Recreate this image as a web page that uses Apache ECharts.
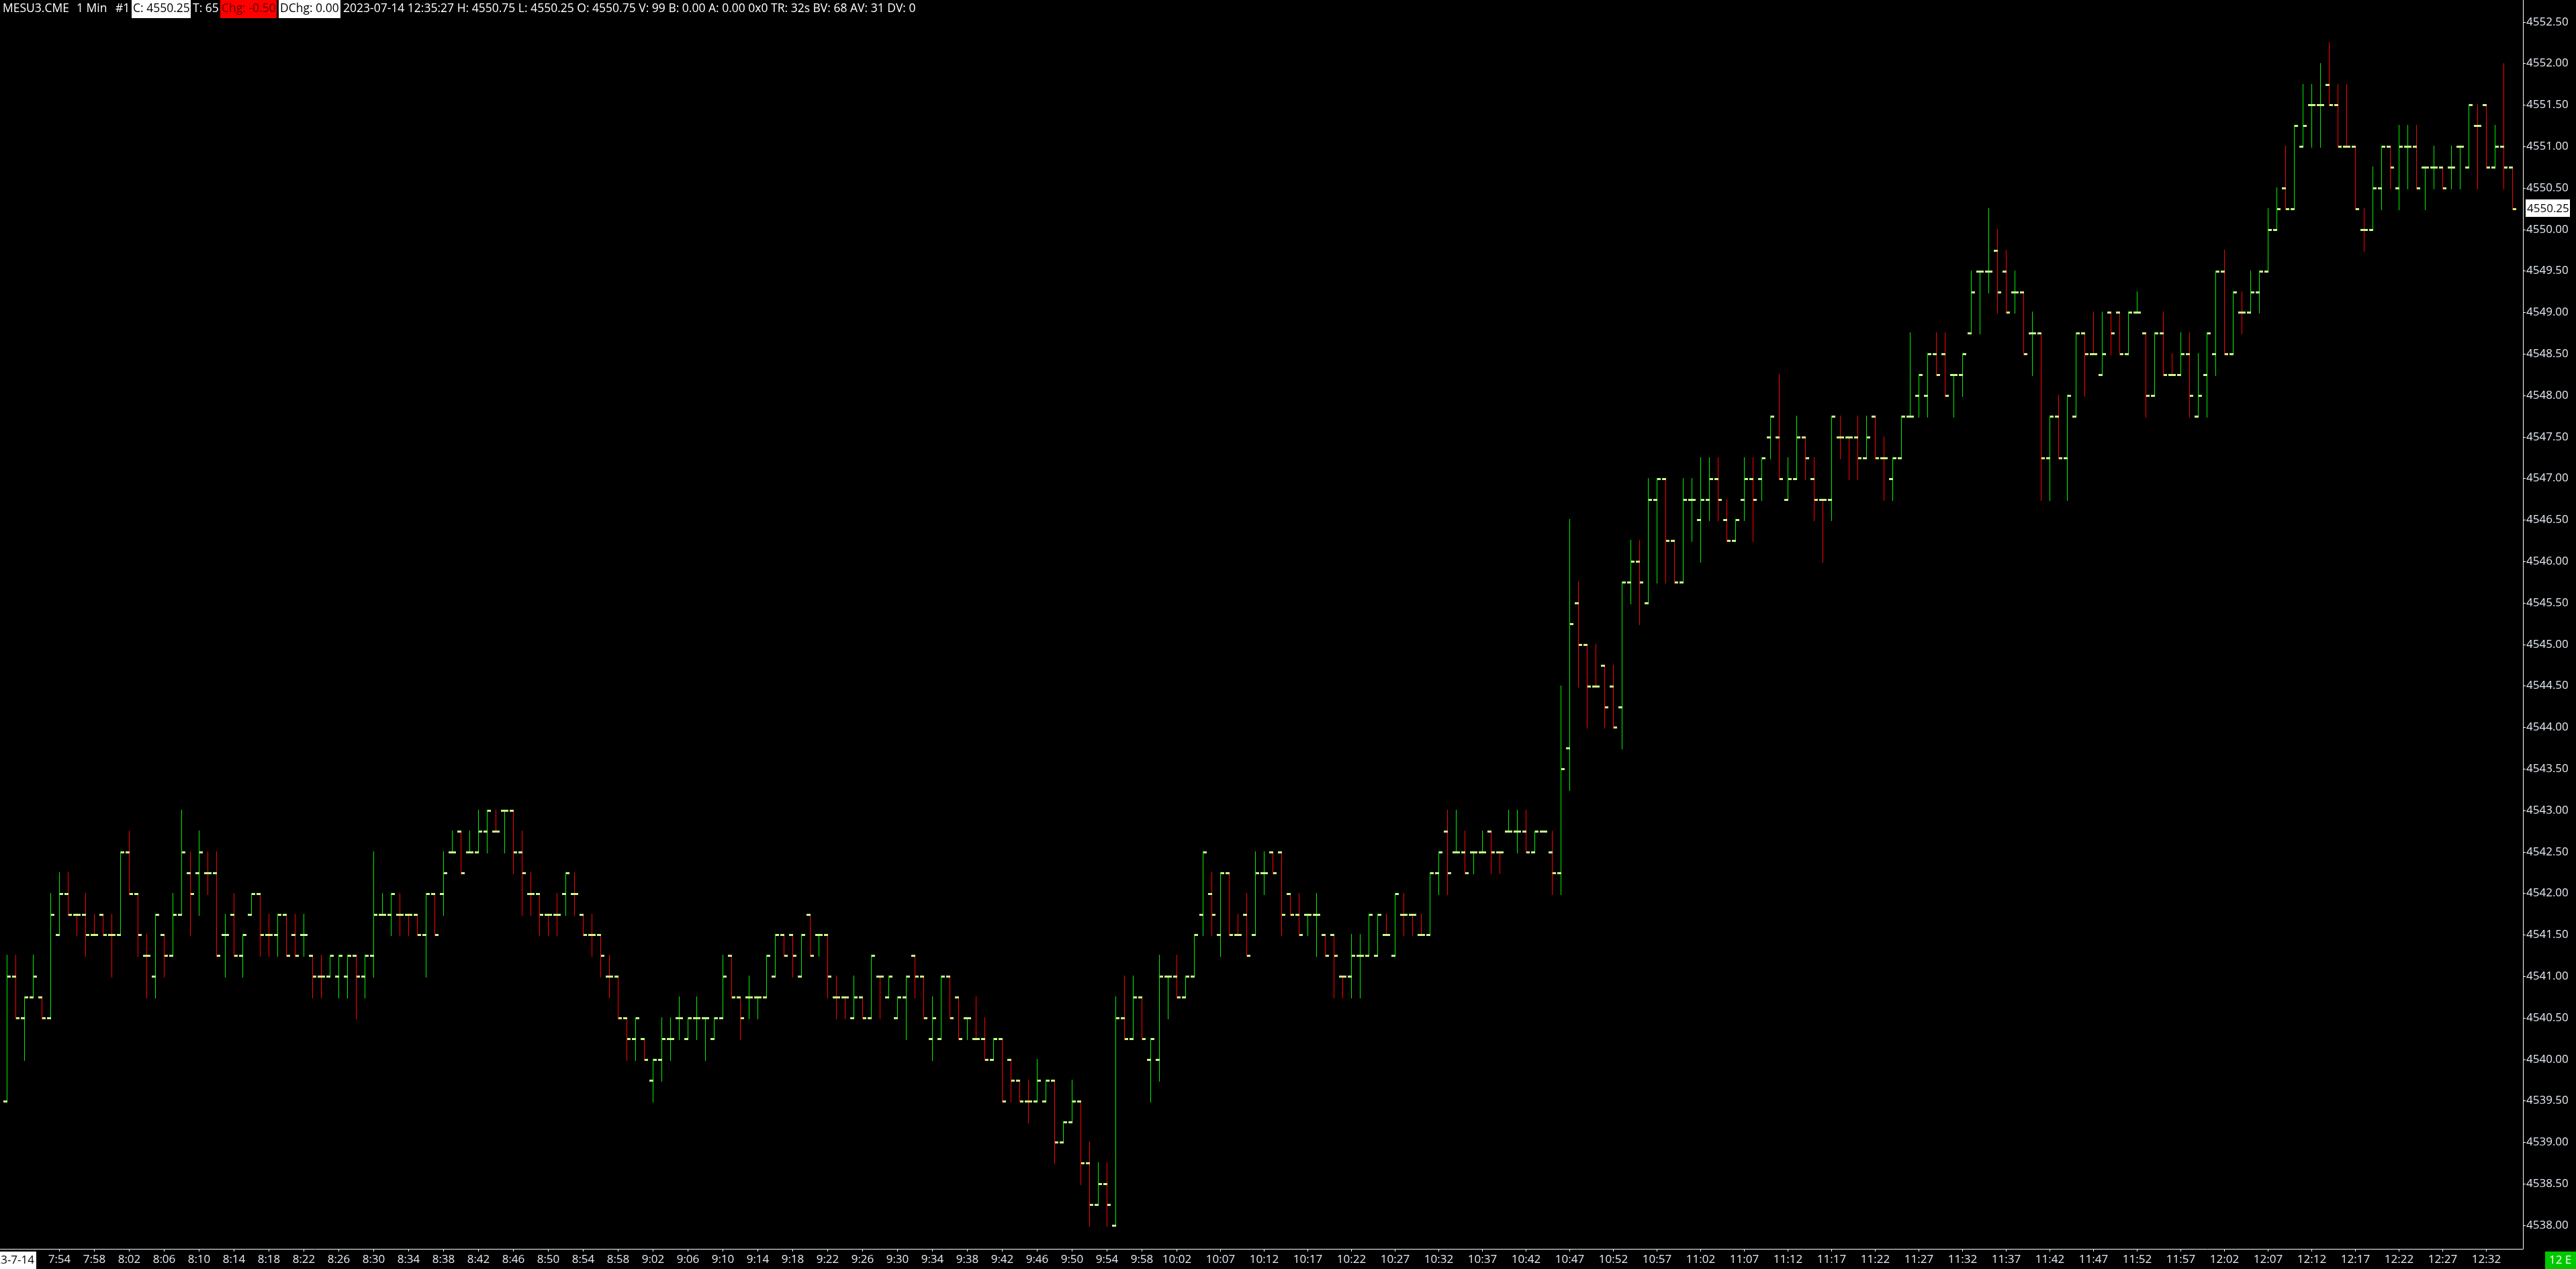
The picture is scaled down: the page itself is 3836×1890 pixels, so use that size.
<!DOCTYPE html>
<html><head><meta charset="utf-8">
<style>html,body{margin:0;padding:0;background:#000;overflow:hidden}#c{width:3836px;height:1890px}</style>
<script src="https://cdn.jsdelivr.net/npm/echarts@6/dist/echarts.min.js"></script>
</head><body><div id="c"></div>
<script>
// ---- data ----
const startMinute = 7 * 60 + 48; // first bar 7:48
const open = [
4539.5,4541,4540.5,4540.75,4540.75,4540.5,4541.5,4542,4541.75,4541.75,
4541.5,4541.75,4541.5,4541.5,4542.5,4542,4541.25,4541,4541.5,4541.25,
4541.75,4542.25,4542.25,4542.25,4542.25,4541.5,4541.75,4541.25,4541.75,4542,
4541.5,4541.5,4541.75,4541.5,4541.5,4541.25,4541,4541,4541,4541,
4541.25,4541,4541.25,4541.75,4541.75,4541.75,4541.75,4541.75,4541.5,4542,
4542,4542.5,4542.75,4542.5,4542.5,4542.75,4542.75,4543,4543,4542.5,
4542,4542,4541.75,4541.75,4542,4542,4541.75,4541.5,4541.5,4541,
4541,4540.5,4540.25,4540.25,4539.75,4540,4540.25,4540.5,4540.25,4540.5,
4540.5,4540.25,4540.5,4541.25,4540.75,4540.75,4540.75,4540.75,4541,4541.5,
4541.5,4541,4541.75,4541.5,4541.5,4540.75,4540.75,4540.5,4540.75,4540.5,
4541,4540.75,4540.5,4540.75,4541.25,4541,4540.25,4540.25,4541,4540.75,
4540.5,4540.25,4540.25,4540,4540.25,4540,4539.75,4539.5,4539.5,4539.5,
4539.75,4539,4539.25,4539.5,4538.75,4538.25,4538.5,4538,4540.5,4540.25,
4540.75,4540,4540,4541,4541,4540.75,4541,4541.75,4542,4541.5,
4542.25,4541.5,4541.75,4541.5,4542.25,4542.5,4542.5,4542,4541.75,4541.75,
4541.75,4541.5,4541.5,4541,4541,4541.25,4541.25,4541.25,4541.5,4541.25,
4541.75,4541.75,4541.5,4541.5,4542.25,4542.75,4542.5,4542.5,4542.5,4542.5,
4542.75,4542.5,4542.75,4542.75,4542.75,4542.5,4542.75,4542.5,4542.25,4543.75,
4545.5,4545,4544.5,4544.75,4544.5,4544.25,4545.75,4546,4545.5,4546.75,
4547,4546.25,4545.75,4546.75,4546.5,4546.75,4547,4546.5,4546.25,4546.75,
4547,4547,4547.5,4547.5,4546.75,4547,4547.5,4547,4546.75,4546.75,
4547.5,4547.5,4547.5,4547.25,4547.75,4547.25,4547,4547.25,4547.75,4548,
4548,4548.5,4548.5,4548.25,4548.25,4548.75,4549.5,4549.5,4549.75,4549.5,
4549.25,4549.25,4548.75,4548.75,4547.25,4547.75,4547.25,4547.75,4548.75,4548.5,
4548.25,4549,4549,4548.5,4549,4548.75,4548,4548.75,4548.25,4548.25,
4548.5,4547.75,4548.25,4548.5,4549.5,4548.5,4549,4549,4549.25,4549.5,
4550,4550.5,4550.25,4551,4551.5,4551.5,4551.75,4551.5,4551,4551,
4550,4550,4550.5,4551,4550.5,4551,4551,4550.75,4550.75,4550.75,
4550.75,4551,4550.75,4551.25,4551.5,4550.75,4551,4550.75];
const high = [
4541.25,4541.25,4540.75,4541.25,4540.75,4542,4542.25,4542.25,4541.75,4542,
4541.75,4541.75,4541.75,4542.5,4542.75,4542,4541.5,4541.75,4541.5,4542,
4543,4542.5,4542.75,4542.5,4542.5,4541.75,4542,4541.5,4542,4542,
4541.75,4541.75,4541.75,4541.75,4541.75,4541.25,4541.25,4541.25,4541.25,4541.25,
4541.25,4541.25,4542.5,4542,4542,4542,4541.75,4541.75,4542,4542,
4542.5,4542.75,4542.75,4542.75,4543,4543,4543,4543,4543,4542.75,
4542.25,4542,4541.75,4542,4542.25,4542.25,4541.75,4541.75,4541.5,4541.25,
4541,4540.5,4540.5,4540.25,4540,4540.5,4540.5,4540.75,4540.5,4540.75,
4540.5,4540.5,4541.25,4541.25,4540.75,4541,4540.75,4541.25,4541.5,4541.5,
4541.5,4541.5,4541.75,4541.5,4541.5,4541,4540.75,4541,4540.75,4541.25,
4541,4541,4540.75,4541,4541.25,4541,4540.75,4541,4541,4540.75,
4540.5,4540.75,4540.5,4540.25,4540.25,4540,4539.75,4539.75,4540,4539.75,
4539.75,4539.25,4539.75,4539.5,4539,4538.75,4538.75,4540.75,4541,4541,
4540.75,4540.25,4541.25,4541,4541.25,4541,4541.5,4542.5,4542.25,4542.25,
4542.25,4541.75,4542,4542.5,4542.5,4542.5,4542.5,4542,4542,4541.75,
4542,4541.5,4541.5,4541,4541.5,4541.5,4541.75,4541.75,4541.75,4542,
4542,4541.75,4541.75,4542.25,4542.5,4543,4543,4542.75,4542.5,4542.75,
4542.75,4542.5,4543,4543,4543,4542.75,4542.75,4542.75,4544.5,4546.5,
4545.75,4545,4545,4544.75,4544.75,4545.75,4546.25,4546.25,4547,4547,
4547,4546.25,4547,4547,4547.25,4547.25,4547.25,4546.75,4546.5,4547.25,
4547.25,4547.25,4547.75,4548.25,4547.25,4547.75,4547.5,4547.25,4546.75,4547.75,
4547.75,4547.5,4547.75,4547.75,4547.75,4547.5,4547.25,4547.75,4548.75,4548.25,
4548.5,4548.75,4548.75,4548.25,4548.5,4549.5,4549.5,4550.25,4550,4549.75,
4549.5,4549.25,4549,4548.75,4547.75,4548,4548,4548.75,4548.75,4549,
4549,4549,4549,4549,4549.25,4548.75,4548.75,4549,4548.5,4548.75,
4548.75,4548.5,4548.75,4549.5,4549.75,4549.25,4549.25,4549.5,4549.5,4550.25,
4550.5,4551,4551.25,4551.75,4551.75,4552,4552.25,4551.75,4551.75,4551,
4550.25,4550.75,4551,4551,4551.25,4551.25,4551.25,4550.75,4551,4550.75,
4551,4551,4551.5,4551.5,4551.5,4551.25,4552,4550.75];
const low = [
4539.5,4540.5,4540,4540.75,4540.5,4540.5,4541.5,4541.75,4541.5,4541.25,
4541.5,4541.5,4541,4541.5,4542,4541.25,4540.75,4540.75,4541,4541.25,
4541.75,4541.5,4541.75,4542,4541.25,4541,4541.25,4541,4541.75,4541.25,
4541.25,4541.25,4541.25,4541.25,4541.25,4540.75,4540.75,4541,4540.75,4540.75,
4540.5,4540.75,4541,4541.75,4541.5,4541.5,4541.5,4541.5,4541,4541.5,
4541.75,4542.5,4542.25,4542.5,4542.5,4542.5,4542.75,4542.5,4542.25,4541.75,
4541.75,4541.5,4541.5,4541.5,4541.75,4541.75,4541.5,4541.25,4541,4540.75,
4540.5,4540,4540,4540,4539.5,4539.75,4540,4540.25,4540.25,4540.25,
4540,4540.25,4540.5,4540.75,4540.25,4540.5,4540.5,4540.75,4541,4541.25,
4541,4541,4541.25,4541.25,4540.75,4540.5,4540.5,4540.5,4540.5,4540.5,
4540.5,4540.75,4540.5,4540.25,4540.75,4540.5,4540,4540.25,4540.5,4540.25,
4540.25,4540.25,4540,4540,4539.5,4539.5,4539.5,4539.25,4539.5,4539.5,
4538.75,4539,4539.25,4538.5,4538,4538.25,4538,4538,4540.25,4540.25,
4540.25,4539.5,4539.75,4540.5,4540.75,4540.75,4541,4541.5,4541.5,4541.25,
4541.5,4541.5,4541.25,4541.5,4542,4542.25,4541.5,4541.75,4541.5,4541.5,
4541.25,4541.25,4540.75,4540.75,4540.75,4540.75,4541.25,4541.25,4541.5,4541.25,
4541.5,4541.5,4541.5,4541.5,4542,4542,4542.5,4542.25,4542.25,4542.5,
4542.25,4542.25,4542.75,4542.5,4542.5,4542.5,4542.75,4542,4542,4543.25,
4544.5,4544,4544.5,4544,4544,4543.75,4545.5,4545.25,4545.5,4545.75,
4545.75,4545.75,4545.75,4546.25,4546,4546.5,4546.5,4546.25,4546.25,4546.5,
4546.25,4546.75,4547.25,4547,4546.75,4547,4547,4546.5,4546,4546.5,
4547.25,4547,4547,4547.25,4547.25,4546.75,4546.75,4547.25,4547.75,4547.75,
4547.75,4548.25,4548,4547.75,4548,4548.75,4548.75,4549.25,4549,4549,
4549,4548.5,4548.25,4546.75,4546.75,4547.25,4546.75,4547.75,4548,4548.5,
4548.25,4548.5,4548.5,4548.5,4549,4547.75,4548,4548.25,4548.25,4548.25,
4547.75,4547.75,4547.75,4548.25,4548.5,4548.5,4548.75,4549,4549,4549.5,
4550,4550.25,4550.25,4551,4551,4551,4551.5,4551,4551,4550.25,
4549.75,4550,4550.25,4550.5,4550.25,4550.5,4550.5,4550.25,4550.5,4550.5,
4550.5,4550.5,4550.75,4550.5,4550.75,4550.75,4550.5,4550.25];
const close = [
4541,4540.5,4540.75,4541,4540.5,4541.75,4542,4541.75,4541.75,4541.5,
4541.5,4541.5,4541.5,4542.5,4542,4541.5,4541.25,4541.75,4541.25,4541.75,
4542.5,4542,4542.5,4542.25,4541.25,4541.5,4541.25,4541.5,4542,4541.5,
4541.5,4541.75,4541.25,4541.25,4541.5,4541,4541,4541.25,4541.25,4541.25,
4541,4541.25,4541.75,4541.75,4542,4541.75,4541.75,4541.5,4542,4541.5,
4542.25,4542.5,4542.25,4542.5,4542.75,4543,4542.75,4543,4542.5,4542.25,
4542,4541.75,4541.75,4541.75,4542.25,4542,4541.5,4541.5,4541.25,4541,
4540.5,4540.25,4540.5,4540,4540,4540.25,4540.25,4540.5,4540.5,4540.5,
4540.5,4540.5,4541,4540.75,4540.5,4540.75,4540.75,4541.25,4541.5,4541.25,
4541.25,4541.5,4541.25,4541.5,4541,4540.75,4540.75,4540.75,4540.5,4541.25,
4541,4541,4540.75,4541,4541,4540.5,4540.5,4541,4540.5,4540.25,
4540.5,4540.25,4540,4540.25,4539.5,4539.75,4539.5,4539.5,4539.75,4539.75,
4539,4539.25,4539.5,4538.75,4538.25,4538.5,4538.25,4540.5,4540.25,4540.75,
4540.25,4540.25,4541,4541,4540.75,4541,4541.5,4542.5,4541.75,4542.25,
4541.5,4541.5,4541.25,4542.25,4542.25,4542.25,4541.75,4541.75,4541.5,4541.75,
4541.75,4541.25,4541.25,4541,4541.25,4541.25,4541.75,4541.75,4541.5,4542,
4541.75,4541.75,4541.5,4542.25,4542.5,4542.25,4542.5,4542.25,4542.5,4542.5,
4542.5,4542.5,4542.75,4542.75,4542.5,4542.75,4542.75,4542.25,4543.5,4545.25,
4545,4544.5,4544.5,4544.25,4544,4545.75,4546,4545.75,4546.75,4547,
4546.25,4545.75,4546.75,4546.75,4546.75,4547,4546.75,4546.25,4546.5,4547,
4546.75,4547.25,4547.75,4547,4547,4547.5,4547.25,4546.75,4546.75,4547.75,
4547.5,4547.5,4547.25,4547.5,4547.25,4547.25,4547.25,4547.75,4547.75,4548.25,
4548.5,4548.25,4548,4548.25,4548.5,4549.25,4549.5,4549.5,4549.25,4549,
4549.25,4548.5,4548.75,4547.25,4547.75,4547.25,4548,4548.75,4548.5,4548.5,
4548.5,4548.75,4548.5,4549,4549,4548,4548.75,4548.25,4548.25,4548.5,
4548,4548,4548.75,4549.5,4548.5,4549.25,4549,4549.25,4549.5,4550,
4550.25,4550.25,4551.25,4551.25,4551.5,4551.5,4551.5,4551,4551,4550.25,
4550,4550.5,4551,4550.75,4551,4551,4550.5,4550.75,4550.75,4550.5,
4550.75,4551,4551.5,4551.25,4550.75,4551,4550.75,4550.25];
const priceTicks = [4538,4538.5,4539,4539.5,4540,4540.5,4541,4541.5,4542,4542.5,4543,4543.5,4544,4544.5,4545,4545.5,4546,4546.5,4547,4547.5,4548,4548.5,4549,4549.5,4550,4550.5,4551,4551.5,4552,4552.5];
const timeTickLabels = ['7:54','7:58','8:02','8:06','8:10','8:14','8:18','8:22','8:26','8:30','8:34','8:38','8:42','8:46','8:50','8:54','8:58','9:02','9:06','9:10','9:14','9:18','9:22','9:26','9:30','9:34','9:38','9:42','9:46','9:50','9:54','9:58','10:02','10:07','10:12','10:17','10:22','10:27','10:32','10:37','10:42','10:47','10:52','10:57','11:02','11:07','11:12','11:17','11:22','11:27','11:32','11:37','11:42','11:47','11:52','11:57','12:02','12:07','12:12','12:17','12:22','12:27','12:32'];
const lastPrice = 4550.25;
const dateLabel = '2023-7-14';
const headerParts = {
  symbol: 'MESU3.CME', period: '1 Min', chartNo: '#1',
  c: 'C: 4550.25', t: 'T: 65', chg: 'Chg: -0.50', dchg: 'DChg: 0.00',
  rest: '2023-07-14 12:35:27 H: 4550.75 L: 4550.25 O: 4550.75 V: 99 B: 0.00 A: 0.00 0x0 TR: 32s BV: 68 AV: 31 DV: 0'
};
const tzLabel = '12 E';

// ---- derived ----
const times = open.map((_, i) => { const m = startMinute + i; return Math.floor(m / 60) + ':' + String(m % 60).padStart(2, '0'); });
const tickIdx = timeTickLabels.map(t => times.indexOf(t));
const dir = [];
for (let i = 0; i < open.length; i++) {
  let d;
  if (close[i] > open[i]) d = 1; else if (close[i] < open[i]) d = -1;
  else if (i > 0 && close[i] > close[i - 1]) d = 1; else if (i > 0 && close[i] < close[i - 1]) d = -1;
  else d = i > 0 ? dir[i - 1] : 1;
  dir.push(d);
}
const data = times.map((t, i) => [i, open[i], high[i], low[i], close[i], dir[i]]);

const FONT = '"Open Sans", "Noto Sans", sans-serif';
const UP = '#00f000', DOWN = '#ff0000', TICKC = '#c8ff8c';
const chart = echarts.init(document.getElementById('c'), null, { renderer: 'canvas' });

const GRID_W = 3757, GRID_H = 1860;
const option = {
  backgroundColor: '#000000',
  animation: false,
  grid: { left: 0, top: 0, width: GRID_W, height: GRID_H },
  xAxis: {
    type: 'value', min: -10.5 / 13, max: -10.5 / 13 + GRID_W / 13,
    splitLine: { show: false },
    axisLine: { show: true, onZero: false, lineStyle: { color: '#ffffff', width: 1 } },
    axisTick: { show: true, length: 4, lineStyle: { color: '#ffffff' }, customValues: tickIdx },
    axisLabel: { show: true, customValues: tickIdx, formatter: v => times[Math.round(v)], color: '#e6ecf5', fontFamily: FONT, fontSize: 17, margin: 8 }
  },
  yAxis: {
    type: 'value', position: 'right', min: 4537.717, max: 4537.717 + GRID_H / 123.6, scale: true,
    splitLine: { show: false },
    axisLine: { show: true, onZero: false, lineStyle: { color: '#ffffff', width: 1 } },
    axisTick: { show: true, length: 4, lineStyle: { color: '#ffffff' }, customValues: priceTicks },
    axisLabel: { show: true, customValues: priceTicks, formatter: v => v.toFixed(2), color: '#e6ecf5', fontFamily: FONT, fontSize: 17, margin: 5 }
  },
  series: [{
    type: 'custom',
    data: data,
    encode: { x: 0, y: [1, 2, 3, 4] },
    clip: true,
    renderItem: function (params, api) {
      const i = api.value(0);
      const px = Math.floor(api.coord([i, api.value(1)])[0]);
      const yO = Math.round(api.coord([i, api.value(1)])[1]);
      const yH = Math.round(api.coord([i, api.value(2)])[1]);
      const yL = Math.round(api.coord([i, api.value(3)])[1]);
      const yC = Math.round(api.coord([i, api.value(4)])[1]);
      const col = api.value(5) > 0 ? UP : DOWN;
      return {
        type: 'group',
        children: [
          { type: 'rect', shape: { x: px, y: yH - 1, width: 1, height: Math.max(1, yL - yH + 3) }, style: { fill: col } },
          { type: 'rect', shape: { x: px - 5, y: yO - 1, width: 6, height: 3 }, style: { fill: TICKC } },
          { type: 'rect', shape: { x: px + 1, y: yC - 1, width: 5, height: 3 }, style: { fill: TICKC } }
        ]
      };
    }
  }],
  graphic: []
};
chart.setOption(option);

// overlay texts (header, last price, date, tz)
const yLast = chart.convertToPixel({ gridIndex: 0 }, [0, lastPrice])[1];
const HF = '17.5px ' + FONT;
const txt = (x, y, s, color, font) => ({ type: 'text', x: x, y: y, style: { text: s, fill: color, font: font || ('17px ' + FONT), textVerticalAlign: 'middle' }, z: 100 });
const box = (x, y, w, h, fill) => ({ type: 'rect', shape: { x: x, y: y, width: w, height: h }, style: { fill: fill }, z: 99 });
const HY = 13;
chart.setOption({
  graphic: [
    txt(4, HY, headerParts.symbol, '#ffffff', HF),
    txt(114, HY, headerParts.period, '#ffffff', HF),
    txt(172, HY, headerParts.chartNo, '#ffffff', HF),
    box(196, 0, 88, 27, '#ffffff'),
    txt(198, HY, headerParts.c, '#000000', HF),
    txt(287, HY, headerParts.t, '#ffffff', HF),
    box(328, 0, 84, 27, '#ff0000'),
    txt(330, HY, headerParts.chg, '#5a0000', HF),
    box(415, 0, 92, 27, '#ffffff'),
    txt(417, HY, headerParts.dchg, '#000000', HF),
    txt(511, HY, headerParts.rest, '#ffffff', HF),
    box(3761, Math.round(yLast) - 14, 66, 26, '#ffffff'),
    txt(3763, Math.round(yLast), lastPrice.toFixed(2), '#000000'),
    box(0, 1864, 54, 26, '#ffffff'),
    { type: 'text', x: 51, y: 1877, style: { text: dateLabel, fill: '#000000', font: '17px ' + FONT, textAlign: 'right', textVerticalAlign: 'middle' }, z: 100 },
    box(3790, 1864, 46, 26, '#00c800'),
    txt(3796, 1877, tzLabel, '#ffffff')
  ]
});
</script>
</body></html>
